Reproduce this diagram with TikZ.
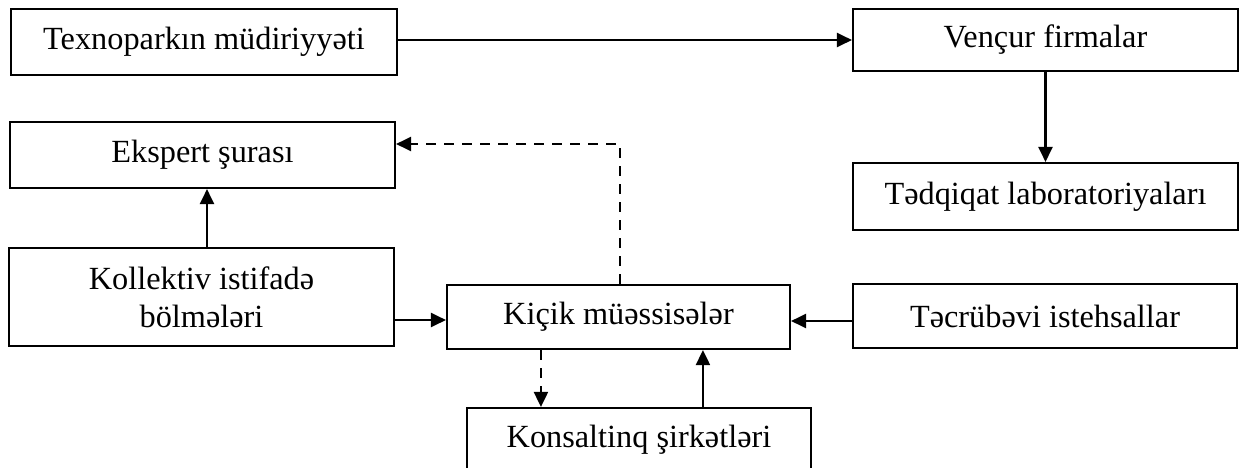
\documentclass[tikz,border=0pt]{standalone}
\usepackage{fontspec}
\setmainfont{Liberation Serif}
\usetikzlibrary{arrows.meta}
\tikzset{
  box/.style={draw, line width=2.1pt, rectangle, inner sep=0pt, align=center,
    font=\fontsize{32.3}{38}\selectfont},
  arr/.style={line width=2.1pt, -{Triangle[length=15pt,width=14pt]}},
  dasharr/.style={arr, dash pattern=on 10pt off 8pt}
}
\begin{document}
\begin{tikzpicture}[x=1pt,y=-1pt]
\useasboundingbox (0,0) rectangle (1240,467);
\clip (0,0) rectangle (1240,467);
\fill[white] (0,0) rectangle (1240,467);
\node[box, minimum width=386pt, minimum height=66pt] (tex) at (204,42) {Texnoparkın müdiriyyəti};
\node[box, minimum width=385pt, minimum height=62pt] (ven) at (1045.5,40) {Vençur firmalar};
\node[box, minimum width=385pt, minimum height=67pt] (tad) at (1045.5,196.5) {Tədqiqat laboratoriyaları};
\node[box, minimum width=385pt, minimum height=66pt] (eks) at (202.5,155) {Ekspert şurası};
\node[box, minimum width=385pt, minimum height=98pt] (kol) at (201.5,297) {Kollektiv istifadə\\bölmələri};
\node[box, minimum width=343pt, minimum height=64pt] (kic) at (618.5,317) {Kiçik müəssisələr};
\node[box, minimum width=384pt, minimum height=64pt] (tac) at (1045,316) {Təcrübəvi istehsallar};
\node[box, minimum width=344pt, minimum height=64pt] (kon) at (639,440) {Konsaltinq şirkətləri};
\draw[arr] (tex.east |- ven.west) -- (ven.west);
\draw[arr] (ven.south) -- (tad.north);
\draw[arr] ([xshift=5.5pt]kol.north) -- ([xshift=5.5pt]kol.north |- eks.south);
\draw[dasharr] ([xshift=1.5pt]kic.north) |- ([yshift=11pt]eks.east);
\draw[arr] ([yshift=-3pt]kol.east |- kic.west) -- ([yshift=-3pt]kic.west);
\draw[arr] ([yshift=-5pt]tac.west) -- ([yshift=-5pt]kic.east |- tac.west);
\draw[dasharr] ([xshift=95pt]kic.south west) -- ([xshift=95pt]kic.south west |- kon.north);
\draw[arr] ([xshift=237pt]kon.north west) -- ([xshift=237pt]kon.north west |- kic.south);
\end{tikzpicture}
\end{document}
